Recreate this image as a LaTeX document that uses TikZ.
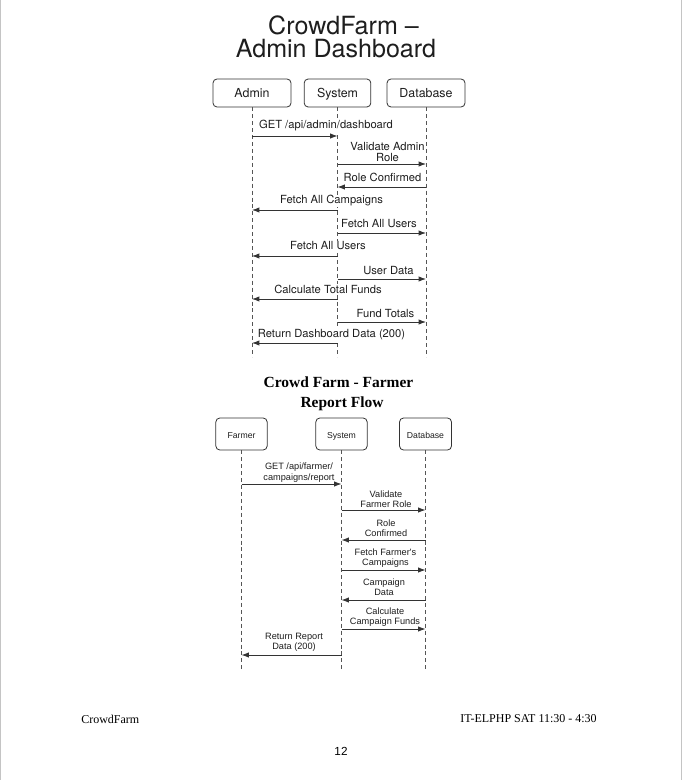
\documentclass[tikz,border=0pt]{standalone}
\usepackage{fontspec}
\setmainfont{Liberation Serif}
\setsansfont{TeX Gyre Heros}
\newfontfamily\arialf{Liberation Sans}
\usetikzlibrary{arrows.meta}
\definecolor{ink}{HTML}{1E1E1E}
\definecolor{linec}{HTML}{333333}
\definecolor{lifec}{HTML}{555555}
\definecolor{pagec}{HTML}{C4C4C4}
\tikzset{
  actorbox/.style={draw=linec, line width=0.6pt, rounded corners=3pt, inner sep=0pt, text=ink, text height=0.72em, text depth=0pt},
  topbox/.style={actorbox, minimum height=21pt, font=\sffamily\fontsize{9.3}{11}\selectfont},
  botbox/.style={actorbox, minimum height=24pt, minimum width=38.5pt, font=\arialf\fontsize{6.5}{8}\selectfont},
  life/.style={draw=lifec, line width=0.55pt, dash pattern=on 3pt off 2.2pt},
  msg/.style={draw=linec, line width=0.65pt, -{Latex[length=5.5pt,width=4pt]}},
  lblbase/.style={fill=white, inner xsep=0.8pt, inner ysep=0.6pt, text=ink, align=center},
  toplbl/.style={lblbase, font=\sffamily\fontsize{8.4}{8.25}\selectfont},
  one/.style={anchor=base},
  botlbl/.style={lblbase, font=\arialf\fontsize{6.9}{7.8}\selectfont},
  foot/.style={inner sep=0pt, text=black, font=\fontsize{9}{11}\selectfont}
}
\begin{document}
\begin{tikzpicture}[x=0.75pt,y=-0.75pt]
\useasboundingbox (0,0) rectangle (682,780);
\fill[white] (0,0) rectangle (682,780);
\draw[pagec, line width=0.75pt] (0.5,0) -- (0.5,780);
\draw[pagec, line width=0.75pt] (681.5,0) -- (681.5,780);

% ---------- top diagram ----------
\node[inner sep=0pt, text=ink, text height=0.72em, text depth=0pt, font=\sffamily\fontsize{18.8}{22}\selectfont] (t1) at (343.5,30) {CrowdFarm –};
\node[inner sep=0pt, text=ink, text height=0.72em, text depth=0pt, font=\sffamily\fontsize{18.8}{22}\selectfont] (t2) at (336,53) {Admin Dashboard};

\node[topbox, minimum width=58.5pt] (admin) at (252,93) {Admin};
\node[topbox, minimum width=50pt] (sys) at (337.5,93) {System};
\node[topbox, minimum width=58.5pt] (db) at (426,93) {Database};

\coordinate (adminEnd) at (252,357);
\coordinate (sysEnd) at (337.5,357);
\coordinate (dbEnd) at (426,357);
\draw[life] (admin.south) -- (adminEnd);
\draw[life] (sys.south) -- (sysEnd);
\draw[life] (db.south) -- (dbEnd);

\node[toplbl, one] (l1) at (326,129) {GET /api/admin/dashboard};
\draw[msg] (admin |- 0,136) -- (sys |- 0,136);
\node[toplbl] (l2) at (387.5,152) {Validate Admin\\Role};
\draw[msg] (sys |- 0,164) -- (db |- 0,164);
\node[toplbl, one] (l3) at (382.5,182) {Role Confirmed};
\draw[msg] (db |- 0,187) -- (sys |- 0,187);
\node[toplbl, one] (l4) at (331.5,204) {Fetch All Campaigns};
\draw[msg] (sys |- 0,210) -- (admin |- 0,210);
\node[toplbl, one] (l5) at (379,227.5) {Fetch All Users};
\draw[msg] (sys |- 0,233) -- (db |- 0,233);
\node[toplbl, one] (l6) at (328,250) {Fetch All Users};
\draw[msg] (sys |- 0,256) -- (admin |- 0,256);
\node[toplbl, one] (l7) at (388.5,274) {User Data};
\draw[msg] (sys |- 0,279) -- (db |- 0,279);
\node[toplbl, one] (l8) at (328,293.5) {Calculate Total Funds};
\draw[msg] (sys |- 0,299) -- (admin |- 0,299);
\node[toplbl, one] (l9) at (385.5,317) {Fund Totals};
\draw[msg] (sys |- 0,322) -- (db |- 0,322);
\node[toplbl, one] (l10) at (331.5,337) {Return Dashboard Data (200)};
\draw[msg] (sys |- 0,343) -- (admin |- 0,343);

% ---------- bottom diagram ----------
\node[inner sep=0pt, text=black, text height=0.7em, text depth=0pt, font=\bfseries\fontsize{11.6}{14}\selectfont] (b1) at (338.5,383) {Crowd Farm - Farmer};
\node[inner sep=0pt, text=black, text height=0.7em, text depth=0pt, font=\bfseries\fontsize{11.6}{14}\selectfont] (b2) at (342,403) {Report Flow};

\node[botbox] (farmer) at (241.5,434) {Farmer};
\node[botbox] (sys2) at (341.5,434) {System};
\node[botbox, minimum width=39pt] (db2) at (425.5,434) {Database};

\coordinate (farmerEnd) at (241.5,671);
\coordinate (sys2End) at (341.5,671);
\coordinate (db2End) at (425.5,671);
\draw[life] (farmer.south) -- (farmerEnd);
\draw[life] (sys2.south) -- (sys2End);
\draw[life] (db2.south) -- (db2End);

\node[botlbl] (m1) at (299,472.5) {GET /api/farmer/\\campaigns/report};
\draw[msg] (farmer |- 0,484) -- (sys2 |- 0,484);
\node[botlbl] (m2) at (386,499) {Validate\\Farmer Role};
\draw[msg] (sys2 |- 0,510) -- (db2 |- 0,510);
\node[botlbl] (m3) at (386,528) {Role\\Confirmed};
\draw[msg] (db2 |- 0,540) -- (sys2 |- 0,540);
\node[botlbl] (m4) at (385.5,558) {Fetch Farmer's\\Campaigns};
\draw[msg] (sys2 |- 0,570) -- (db2 |- 0,570);
\node[botlbl] (m5) at (384,587) {Campaign\\Data};
\draw[msg] (db2 |- 0,600) -- (sys2 |- 0,600);
\node[botlbl] (m6) at (385,617) {Calculate\\Campaign Funds};
\draw[msg] (sys2 |- 0,629) -- (db2 |- 0,629);
\node[botlbl] (m7) at (294,642) {Return Report\\Data (200)};
\draw[msg] (sys2 |- 0,655) -- (farmer |- 0,655);

% ---------- footer ----------
\node[foot, anchor=west] (f1) at (81,719) {CrowdFarm};
\node[foot, anchor=east] (f2) at (597,719) {IT-ELPHP SAT 11:30 - 4:30};
\node[inner sep=0pt, text=black, font=\arialf\fontsize{8.8}{10}\selectfont] (f3) at (341,751) {12};
\end{tikzpicture}
\end{document}
